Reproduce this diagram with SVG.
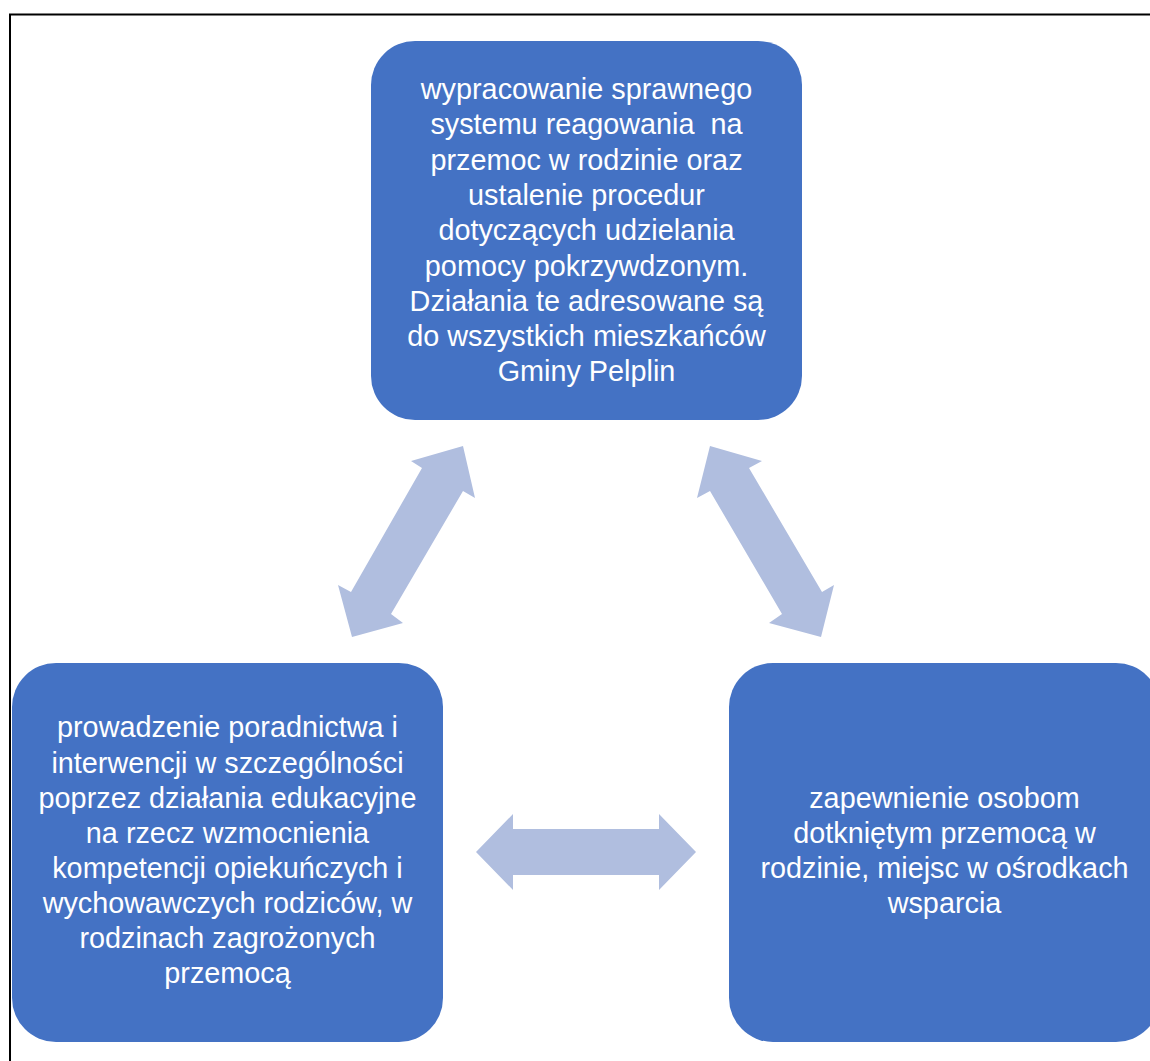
<svg xmlns="http://www.w3.org/2000/svg" width="1150" height="1061" viewBox="0 0 1150 1061">
<style>
.node{fill:#4472C4;}
.arrow{fill:#B0BEDF;}
.t{font-family:"Liberation Sans","Open Sans",Arial,sans-serif;font-size:28.8px;fill:#FFFFFF;text-anchor:middle;}
.frame{stroke:#000;stroke-width:2;fill:none;}
</style>
<rect width="1150" height="1061" fill="#FFFFFF"/>
<path class="frame" d="M10,1061 V14.5 H1150"/>
<g id="connectors">
<polygon class="arrow" points="463,446 475,498 463,491 391,614 403,623 352,637 338,585 351,592 422,468 411,461"/>
<polygon class="arrow" points="710,446 762,461 749,468 822,592 834,585 821,637 769,623 782,614 710,491 697,498"/>
<polygon class="arrow" points="476,852 513,814 513,829 659,829 659,814 696,852 659,890 659,875 513,875 513,890"/>
</g>
<g id="node-top">
<rect class="node" x="371" y="41" width="431" height="379" rx="44"/>
<text class="t" x="586.5" y="99">wypracowanie sprawnego</text>
<text class="t" x="586.5" y="134" xml:space="preserve">systemu reagowania  na</text>
<text class="t" x="586.5" y="170">przemoc w rodzinie oraz</text>
<text class="t" x="586.5" y="205">ustalenie procedur</text>
<text class="t" x="586.5" y="240">dotyczących udzielania</text>
<text class="t" x="586.5" y="276">pomocy pokrzywdzonym.</text>
<text class="t" x="586.5" y="311">Działania te adresowane są</text>
<text class="t" x="586.5" y="346">do wszystkich mieszkańców</text>
<text class="t" x="586.5" y="381">Gminy Pelplin</text>
</g>
<g id="node-left">
<rect class="node" x="12" y="663" width="431" height="379" rx="44"/>
<text class="t" x="227.5" y="737">prowadzenie poradnictwa i</text>
<text class="t" x="227.5" y="773">interwencji w szczególności</text>
<text class="t" x="227.5" y="808">poprzez działania edukacyjne</text>
<text class="t" x="227.5" y="843">na rzecz wzmocnienia</text>
<text class="t" x="227.5" y="878">kompetencji opiekuńczych i</text>
<text class="t" x="227.5" y="913">wychowawczych rodziców, w</text>
<text class="t" x="227.5" y="948">rodzinach zagrożonych</text>
<text class="t" x="227.5" y="983">przemocą</text>
</g>
<g id="node-right">
<rect class="node" x="729" y="663" width="431" height="379" rx="44"/>
<text class="t" x="944.5" y="808">zapewnienie osobom</text>
<text class="t" x="944.5" y="843">dotkniętym przemocą w</text>
<text class="t" x="944.5" y="878">rodzinie, miejsc w ośrodkach</text>
<text class="t" x="944.5" y="913">wsparcia</text>
</g>
</svg>
